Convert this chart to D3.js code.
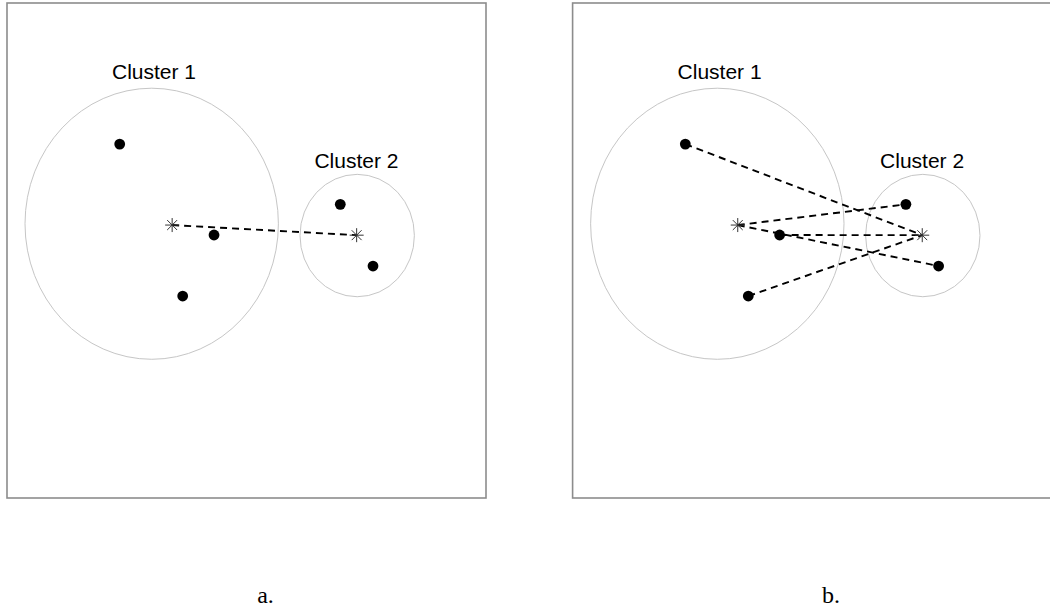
<!DOCTYPE html>
<html>
<head>
<meta charset="utf-8">
<script src="https://cdn.jsdelivr.net/npm/d3@7"></script>
<style>
  html, body { margin: 0; padding: 0; background: #fff; }
  svg { display: block; }
</style>
</head>
<body>
<svg id="chart" width="1050" height="609"></svg>
<script>
// Member points of the two clusters (data units)
const cluster1X = [2.353, 4.322, 3.668];
const cluster1Y = [6.907, 5.132, 3.941];
const cluster2X = [6.958, 7.641];
const cluster2Y = [5.731, 4.527];

// Outline circles drawn around each cluster
const circleNames = ["Cluster 1", "Cluster 2"];
const circleCX = [3.021, 7.311];
const circleCY = [5.352, 5.122];
const circleR = [2.645, 1.194];

// Where each cluster's name is written
const labelX = [3.069, 7.296];
const labelY = [8.176, 6.445];

// Panel captions
const panelCaptions = ["a.", "b."];

const svg = d3.select("#chart");

const panelW = 479, panelH = 495, panelTop = 3;
const panelLefts = [7, 572.6];

const pts1 = cluster1X.map((x, i) => ({ x, y: cluster1Y[i] }));
const pts2 = cluster2X.map((x, i) => ({ x, y: cluster2Y[i] }));
const centroid1 = { x: d3.mean(cluster1X), y: d3.mean(cluster1Y) };
const centroid2 = { x: d3.mean(cluster2X), y: d3.mean(cluster2Y) };

function drawPanel(idx) {
  const left = panelLefts[idx];
  const x = d3.scaleLinear().domain([0, 10]).range([left, left + panelW]);
  const y = d3.scaleLinear().domain([0, 9.66]).range([panelTop + panelH, panelTop]);
  const g = svg.append("g");

  // frame
  g.append("rect")
    .attr("x", left).attr("y", panelTop)
    .attr("width", panelW).attr("height", panelH)
    .attr("fill", "none").attr("stroke", "#8c8c8c").attr("stroke-width", 1.6);

  // cluster outlines
  g.selectAll("ellipse.outline")
    .data(circleCX.map((cx, i) => ({ cx, cy: circleCY[i], r: circleR[i] })))
    .join("ellipse")
    .attr("class", "outline")
    .attr("cx", d => x(d.cx)).attr("cy", d => y(d.cy))
    .attr("rx", d => x(d.r) - x(0))
    .attr("ry", d => y(0) - y(d.r))
    .attr("fill", "none").attr("stroke", "#c6c6c6").attr("stroke-width", 1);

  // cluster names
  g.selectAll("text.name")
    .data(circleNames)
    .join("text")
    .attr("class", "name")
    .attr("x", (d, i) => x(labelX[i])).attr("y", (d, i) => y(labelY[i]))
    .attr("text-anchor", "middle")
    .attr("font-family", "Liberation Sans, Arial, sans-serif")
    .attr("font-size", 21)
    .attr("fill", "#000")
    .text(d => d);

  // distance segments
  let segs;
  if (idx === 0) {
    // centroid linkage: one segment between centroids
    segs = [[centroid1, centroid2]];
  } else {
    // each point of one cluster to the other cluster's centroid
    segs = pts1.map(p => [p, centroid2]).concat(pts2.map(p => [centroid1, p]));
  }
  g.selectAll("line.seg")
    .data(segs)
    .join("line")
    .attr("class", "seg")
    .attr("x1", d => x(d[0].x)).attr("y1", d => y(d[0].y))
    .attr("x2", d => x(d[1].x)).attr("y2", d => y(d[1].y))
    .attr("stroke", "#000").attr("stroke-width", 1.9)
    .attr("stroke-dasharray", "7,5");

  // points
  g.selectAll("circle.pt")
    .data(pts1.concat(pts2))
    .join("circle")
    .attr("class", "pt")
    .attr("cx", d => x(d.x)).attr("cy", d => y(d.y))
    .attr("r", 5.4)
    .attr("fill", "#000");

  // centroids drawn as asterisks
  const star = d3.range(8).map(k => k * Math.PI / 4);
  const arm = 7;
  [centroid1, centroid2].forEach(c => {
    const sg = g.append("g").attr("transform", `translate(${x(c.x)},${y(c.y)})`);
    sg.selectAll("line")
      .data(star)
      .join("line")
      .attr("x1", 0).attr("y1", 0)
      .attr("x2", a => arm * Math.cos(a)).attr("y2", a => arm * Math.sin(a))
      .attr("stroke", "#333").attr("stroke-width", 1);
  });

  // caption below the panel
  g.append("text")
    .attr("x", left + panelW / 2 + 19).attr("y", 603)
    .attr("text-anchor", "middle")
    .attr("font-family", "Liberation Serif, Times New Roman, serif")
    .attr("font-size", 24)
    .attr("fill", "#000")
    .text(panelCaptions[idx]);
}

drawPanel(0);
drawPanel(1);
</script>
</body>
</html>
